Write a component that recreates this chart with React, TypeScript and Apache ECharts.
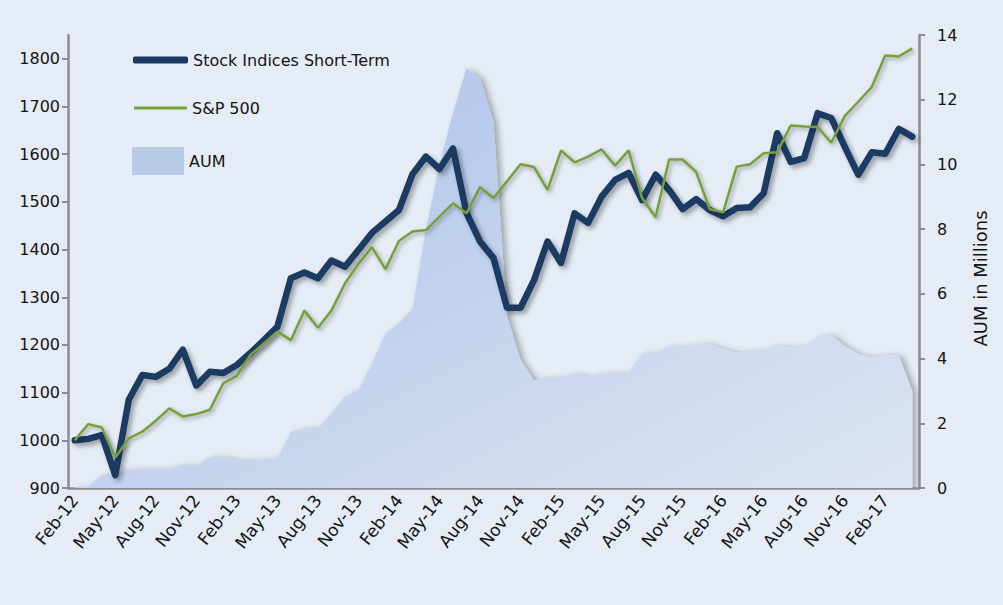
import React, { useEffect, useRef } from "react";
import * as echarts from "echarts";

const months = [
  "Feb-12", "Mar-12", "Apr-12", "May-12", "Jun-12", "Jul-12", "Aug-12", "Sep-12", "Oct-12", "Nov-12", "Dec-12",
  "Jan-13", "Feb-13", "Mar-13", "Apr-13", "May-13", "Jun-13", "Jul-13", "Aug-13", "Sep-13", "Oct-13", "Nov-13", "Dec-13",
  "Jan-14", "Feb-14", "Mar-14", "Apr-14", "May-14", "Jun-14", "Jul-14", "Aug-14", "Sep-14", "Oct-14", "Nov-14", "Dec-14",
  "Jan-15", "Feb-15", "Mar-15", "Apr-15", "May-15", "Jun-15", "Jul-15", "Aug-15", "Sep-15", "Oct-15", "Nov-15", "Dec-15",
  "Jan-16", "Feb-16", "Mar-16", "Apr-16", "May-16", "Jun-16", "Jul-16", "Aug-16", "Sep-16", "Oct-16", "Nov-16", "Dec-16",
  "Jan-17", "Feb-17", "Mar-17", "Apr-17",
];

const stockIndices = [
  1000, 1003, 1011, 927, 1085, 1137, 1133, 1150, 1190, 1115, 1144, 1141, 1158, 1183, 1210, 1238,
  1340, 1352, 1340, 1377, 1364, 1399, 1435, 1459, 1483, 1558, 1595, 1569, 1612, 1477, 1417, 1382,
  1278, 1278, 1336, 1417, 1372, 1476, 1456, 1511, 1546, 1561, 1504, 1557, 1525, 1485, 1506, 1483,
  1470, 1487, 1489, 1518, 1644, 1584, 1592, 1686, 1676, 1616, 1557, 1604, 1601, 1653, 1637,
];

const sp500 = [
  1000, 1034, 1027, 964, 1004, 1018, 1041, 1067, 1050, 1055, 1064, 1120, 1135, 1179, 1203, 1228,
  1210, 1272, 1236, 1272, 1329, 1370, 1405, 1359, 1418, 1438, 1441, 1469, 1497, 1476, 1531, 1508,
  1543, 1579, 1573, 1525, 1608, 1583, 1595, 1610, 1576, 1608, 1508, 1468, 1589, 1589, 1563, 1485,
  1478, 1574, 1579, 1602, 1604, 1660, 1658, 1657, 1624, 1680, 1710, 1741, 1807, 1805, 1822,
];

const aum = [
  0.05, 0.05, 0.4, 0.47, 0.56, 0.58, 0.58, 0.6, 0.71, 0.68, 0.95, 0.95, 0.86, 0.87, 0.87, 0.92,
  1.74, 1.84, 1.84, 2.31, 2.84, 3.03, 3.85, 4.78, 5.09, 5.55, 8.0, 10.0, 11.6, 12.97, 12.66, 11.3,
  5.3, 3.96, 3.32, 3.4, 3.41, 3.52, 3.44, 3.52, 3.54, 3.56, 4.17, 4.14, 4.38, 4.35, 4.42, 4.44,
  4.3, 4.18, 4.2, 4.27, 4.39, 4.35, 4.37, 4.68, 4.73, 4.38, 4.14, 4.04, 4.1, 4.1, 3.0,
];

const leftTicks = [900, 1000, 1100, 1200, 1300, 1400, 1500, 1600, 1700, 1800];

export default function App() {
  const ref = useRef<HTMLDivElement>(null);

  useEffect(() => {
    if (!ref.current) return;
    const chart = echarts.init(ref.current, null, { renderer: "svg" });
    const font = "DejaVu Sans";
    const axisColor = "#8c8c8c";
    const textColor = "#141414";
    const navy = "#1a3a63";
    const green = "#76a03a";
    const lineShadow = {
      shadowColor: "rgba(0,0,0,0.35)",
      shadowBlur: 5,
      shadowOffsetX: 3,
      shadowOffsetY: 3,
    };
    const legendText = { fontSize: 16, color: textColor, fontFamily: font };

    chart.setOption({
      animation: false,
      backgroundColor: "#e5ecf5",
      textStyle: { fontFamily: font },
      grid: { left: 68, right: 84, top: 35, bottom: 117 },
      legend: [
        {
          data: ["Stock Indices Short-Term"],
          left: 133,
          top: 52,
          padding: 0,
          icon: "roundRect",
          itemWidth: 55,
          itemHeight: 7,
          selectedMode: false,
          textStyle: legendText,
        },
        {
          data: ["S&P 500"],
          left: 134,
          top: 100,
          padding: 0,
          icon: "rect",
          itemWidth: 53,
          itemHeight: 3,
          selectedMode: false,
          textStyle: legendText,
        },
        {
          data: [{ name: "AUM", itemStyle: { color: "#b8cbe6" } }],
          left: 132,
          top: 147,
          padding: 0,
          icon: "rect",
          itemWidth: 52,
          itemHeight: 28,
          selectedMode: false,
          textStyle: legendText,
        },
      ],
      xAxis: {
        type: "category",
        data: months,
        boundaryGap: true,
        axisLine: { lineStyle: { color: axisColor, width: 2.5 } },
        axisTick: { interval: 2, length: 6, lineStyle: { color: axisColor, width: 2 } },
        axisLabel: {
          interval: 2,
          rotate: 52,
          margin: 9,
          color: textColor,
          fontSize: 17,
          fontFamily: font,
        },
        splitLine: { show: false },
      },
      yAxis: [
        {
          type: "value",
          position: "left",
          min: 900,
          max: 1850,
          interval: 100,
          axisLine: { show: true, lineStyle: { color: axisColor, width: 2.5 } },
          axisTick: {
            show: true,
            length: 6,
            customValues: leftTicks,
            lineStyle: { color: axisColor, width: 2 },
          },
          axisLabel: {
            customValues: leftTicks,
            formatter: (v: number) => String(v),
            margin: 8,
            color: textColor,
            fontSize: 16,
            fontFamily: font,
          },
          splitLine: { show: false },
        },
        {
          type: "value",
          position: "right",
          min: 0,
          max: 14,
          interval: 2,
          name: "AUM in Millions",
          nameLocation: "middle",
          nameRotate: 90,
          nameGap: 52,
          nameTextStyle: {
            fontSize: 18,
            color: textColor,
            fontFamily: font,
            padding: [0, 34, 0, 0],
          },
          axisLine: { show: true, lineStyle: { color: axisColor, width: 2.5 } },
          axisTick: { show: true, length: 6, lineStyle: { color: axisColor, width: 2 } },
          axisLabel: { margin: 18, color: textColor, fontSize: 16, fontFamily: font },
          splitLine: { show: false },
        },
      ],
      series: [
        {
          name: "AUM",
          type: "line",
          yAxisIndex: 1,
          data: aum,
          symbol: "none",
          lineStyle: { width: 0 },
          itemStyle: { color: "#b8cbe6" },
          areaStyle: {
            color: new echarts.graphic.LinearGradient(0, 0, 1, 1, [
              { offset: 0, color: "#aac1ea" },
              { offset: 1, color: "#dce4f2" },
            ]),
            opacity: 1,
            shadowColor: "rgba(0,0,0,0.3)",
            shadowBlur: 6,
            shadowOffsetX: 4,
            shadowOffsetY: 1,
          },
          z: 1,
        },
        {
          name: "Stock Indices Short-Term",
          type: "line",
          yAxisIndex: 0,
          data: stockIndices,
          symbol: "none",
          itemStyle: { color: navy },
          lineStyle: { color: navy, width: 6.5, join: "round", cap: "round", ...lineShadow },
          z: 2,
        },
        {
          name: "S&P 500",
          type: "line",
          yAxisIndex: 0,
          data: sp500,
          symbol: "none",
          itemStyle: { color: green },
          lineStyle: { color: green, width: 2.5, ...lineShadow, shadowBlur: 4, shadowOffsetX: 2, shadowOffsetY: 2 },
          z: 3,
        },
      ],
    });

    return () => chart.dispose();
  }, []);

  return (
    <div
      ref={ref}
      style={{ position: "fixed", left: 0, top: 0, width: 1003, height: 605 }}
    />
  );
}
